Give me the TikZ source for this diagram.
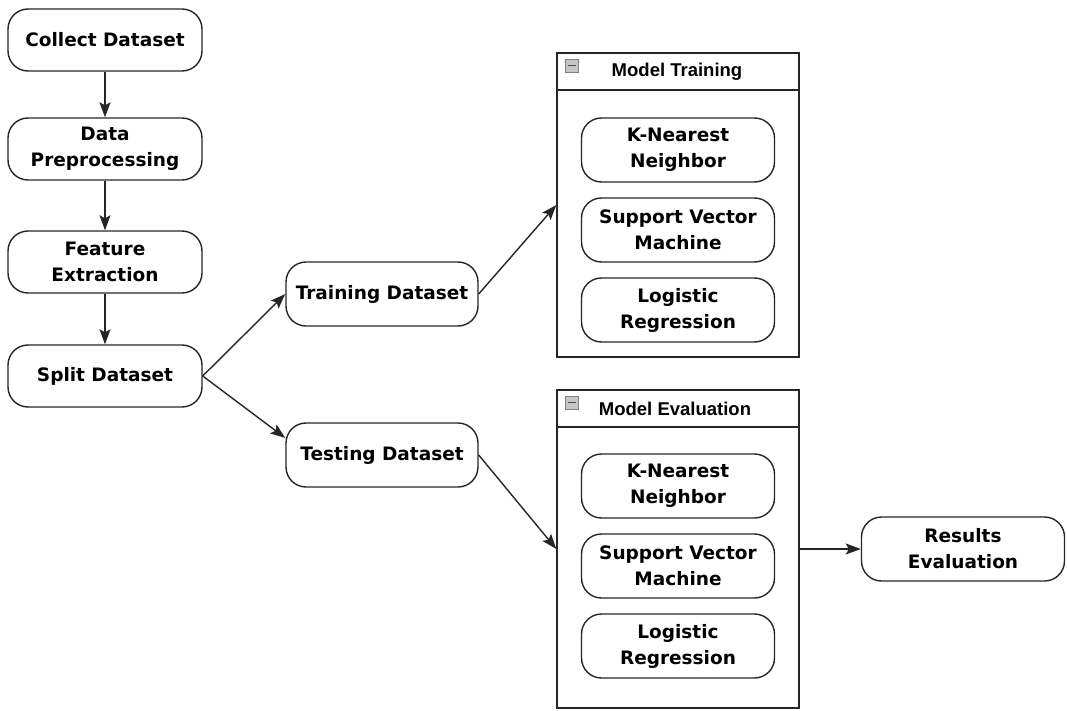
\documentclass[tikz,border=0pt]{standalone}
\usepackage{fontspec}
\setmainfont{DejaVu Sans}
\newfontfamily\headfont{Liberation Sans}
\usetikzlibrary{arrows.meta}

\tikzset{
  stepbox/.style={draw=black!85, rounded corners=20pt, line width=1.4pt,
    minimum width=194pt, minimum height=62pt, align=center,
    font=\bfseries\fontsize{18.5}{26}\selectfont},
  modelbox/.style={stepbox, minimum width=193pt, minimum height=64pt},
  groupbox/.style={draw=black!85, line width=1.4pt, minimum width=242pt, inner sep=0pt},
  headtext/.style={font=\headfont\bfseries\fontsize{18.5}{22}\selectfont},
  arr/.style={draw=black!85, -{Stealth[length=15pt,width=11pt,inset=3pt]}, line width=1.4pt},
}

\begin{document}
\begin{tikzpicture}[x=1pt,y=-1pt]
\useasboundingbox (0,0) rectangle (1067,711);

% left column
\node[stepbox] (collect) at (105,40) {Collect Dataset};
\node[stepbox] (prep) at (105,149) {Data\\Preprocessing};
\node[stepbox] (feat) at (105,262) {Feature\\Extraction};
\node[stepbox] (split) at (105,376) {Split Dataset};

\node[stepbox, minimum width=192pt, minimum height=64pt] (train) at (382,294) {Training Dataset};
\node[stepbox, minimum width=192pt, minimum height=64pt] (test) at (382,455) {Testing Dataset};

% model training group
\node[groupbox, minimum height=304pt] (mt) at (678,205) {};
\draw[black!85, line width=1.4pt] (557,90) -- (799,90);
\node[headtext] (mthead) at (677,72) {Model Training};
\draw[gray, fill=gray!45] (565,59) rectangle (578,72);
\draw[black!70, line width=1.4pt] (567.5,65.5) -- (575.5,65.5);
\node[modelbox] (knn1) at (678,150) {K-Nearest\\Neighbor};
\node[modelbox] (svm1) at (678,230) {Support Vector\\Machine};
\node[modelbox] (lr1) at (678,310) {Logistic\\Regression};

% model evaluation group
\node[groupbox, minimum height=318pt] (me) at (678,549) {};
\draw[black!85, line width=1.4pt] (557,427) -- (799,427);
\node[headtext] (mehead) at (675,409) {Model Evaluation};
\draw[gray, fill=gray!45] (565,396) rectangle (578,409);
\draw[black!70, line width=1.4pt] (567.5,402.5) -- (575.5,402.5);
\node[modelbox] (knn2) at (678,486) {K-Nearest\\Neighbor};
\node[modelbox] (svm2) at (678,566) {Support Vector\\Machine};
\node[modelbox] (lr2) at (678,646) {Logistic\\Regression};

\node[stepbox, minimum width=203pt, minimum height=64pt] (results) at (963,549) {Results\\Evaluation};

\draw[arr] (collect) -- (prep);
\draw[arr] (prep) -- (feat);
\draw[arr] (feat) -- (split);
\draw[arr] (split.east) -- (train.west);
\draw[arr] (split.east) -- (test.170);
\draw[arr] (train.east) -- (mt.west);
\draw[arr] (test.east) -- (me.west);
\draw[arr] (me.east) -- (results.west);
\end{tikzpicture}
\end{document}
